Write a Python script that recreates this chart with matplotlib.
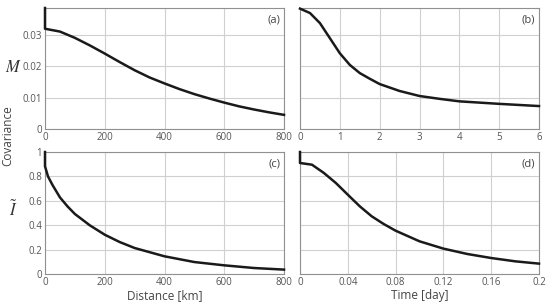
"""
Covariance of M and I-tilde versus distance and time, four panels
"""
import matplotlib
matplotlib.use("Agg")
import matplotlib.pyplot as plt

# panel (a): M vs distance
dist_a = [0, 0, 50, 100, 150, 200, 250, 300, 350, 400, 450, 500, 550, 600, 650, 700, 750, 800]
m_dist = [0.0385, 0.0319, 0.0310, 0.0290, 0.0266, 0.0240, 0.0213, 0.0187, 0.0164, 0.0145,
          0.0127, 0.0111, 0.0097, 0.0084, 0.0072, 0.0062, 0.0053, 0.0045]

# panel (b): M vs time
time_b = [0, 0.25, 0.5, 0.75, 1, 1.25, 1.5, 1.75, 2, 2.5, 3, 3.5, 4, 5, 6]
m_time = [0.0383, 0.0369, 0.0337, 0.0289, 0.0241, 0.0204, 0.0178, 0.0160, 0.0143,
          0.0121, 0.0105, 0.0096, 0.0088, 0.0080, 0.0073]

# panel (c): I~ vs distance
dist_c = [0, 0, 10, 25, 50, 75, 100, 150, 200, 250, 300, 400, 500, 600, 700, 800]
i_dist = [1.0, 0.883, 0.80, 0.73, 0.628, 0.555, 0.492, 0.399, 0.322, 0.262, 0.213,
          0.145, 0.098, 0.071, 0.049, 0.036]

# panel (d): I~ vs time
time_d = [0, 0, 0.01, 0.02, 0.03, 0.04, 0.05, 0.06, 0.07, 0.08, 0.10, 0.12, 0.14, 0.16, 0.18, 0.2]
i_time = [1.0, 0.91, 0.896, 0.828, 0.746, 0.650, 0.555, 0.473, 0.41, 0.355, 0.268,
          0.208, 0.164, 0.131, 0.104, 0.085]

plt.rcParams["font.family"] = ["Open Sans", "DejaVu Sans"]
plt.rcParams["mathtext.fontset"] = "stix"

fig = plt.figure(figsize=(5.5, 3.04), dpi=100)
W, H = 550.0, 304.0

def make_ax(x0, y0, x1, y1):
    return fig.add_axes([x0 / W, 1 - y1 / H, (x1 - x0) / W, (y1 - y0) / H])

ax_a = make_ax(45, 8, 284, 129)
ax_b = make_ax(300, 8, 539, 129)
ax_c = make_ax(45, 152, 284, 274)
ax_d = make_ax(300, 152, 539, 274)

panels = [
    (ax_a, dist_a, m_dist, (0, 800), (0, 0.0385), [0, 200, 400, 600, 800], [0, 0.01, 0.02, 0.03], "(a)"),
    (ax_b, time_b, m_time, (0, 6), (0, 0.0385), [0, 1, 2, 3, 4, 5, 6], [0, 0.01, 0.02, 0.03], "(b)"),
    (ax_c, dist_c, i_dist, (0, 800), (0, 1), [0, 200, 400, 600, 800], [0, 0.2, 0.4, 0.6, 0.8, 1], "(c)"),
    (ax_d, time_d, i_time, (0, 0.2), (0, 1), [0, 0.04, 0.08, 0.12, 0.16, 0.2], [0, 0.2, 0.4, 0.6, 0.8, 1], "(d)"),
]

for ax, x, y, xl, yl, xt, yt, tag in panels:
    ax.plot(x, y, color="#1a1a1a", lw=1.8, solid_joinstyle="round", clip_on=False, zorder=5)
    ax.set_xlim(*xl)
    ax.set_ylim(*yl)
    ax.set_xticks(xt)
    ax.set_yticks(yt)
    ax.grid(True, color="#d0d0d0", lw=0.8)
    ax.set_axisbelow(True)
    ax.tick_params(length=0, labelsize=7, colors="#555555", pad=2)
    for s in ax.spines.values():
        s.set_color("#909090")
        s.set_linewidth(0.8)
    ax.text(0.985, 0.95, tag, transform=ax.transAxes, ha="right", va="top",
            fontsize=8, color="#444444")

ax_a.set_yticklabels(["0", "0.01", "0.02", "0.03"])
ax_c.set_yticklabels(["0", "0.2", "0.4", "0.6", "0.8", "1"])
ax_b.set_yticklabels([])
ax_d.set_yticklabels([])
ax_c.set_xticklabels(["0", "200", "400", "600", "800"])
ax_d.set_xticklabels(["0", "0.04", "0.08", "0.12", "0.16", "0.2"])

ax_c.set_xlabel("Distance [km]", fontsize=8.5, color="#444444", labelpad=1)
ax_d.set_xlabel("Time [day]", fontsize=8.5, color="#444444", labelpad=1)

fig.text(13 / W, 1 - 68 / H, r"$M$", fontsize=12, ha="center", va="center", color="#333333")
fig.text(13 / W, 1 - 210 / H, r"$\tilde{I}$", fontsize=12, ha="center", va="center", color="#333333")
fig.text(8 / W, 1 - 136 / H, "Covariance", fontsize=8.5, rotation=90, ha="center", va="center",
         color="#444444")

fig.savefig("out.png", dpi=100)
